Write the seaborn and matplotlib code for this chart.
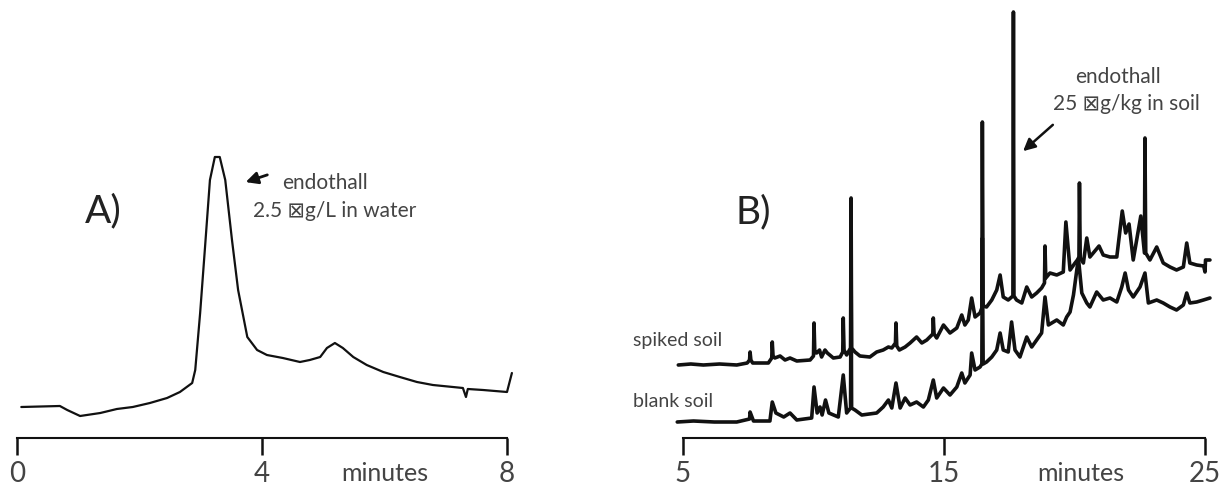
import matplotlib
matplotlib.use("Agg")
import matplotlib.pyplot as plt
import seaborn as sns

# ---- panel A: endothall in water (time in minutes, detector signal)
water_time = [0.07, 0.70, 0.82, 1.03, 1.36, 1.63, 1.89, 2.17, 2.45, 2.66, 2.86, 2.91,
              2.99, 3.07, 3.15, 3.23, 3.31, 3.40, 3.51, 3.61, 3.76, 3.92, 4.08, 4.34,
              4.62, 4.78, 4.95, 5.06, 5.19, 5.32, 5.49, 5.71, 5.98, 6.25, 6.53, 6.79,
              7.28, 7.33, 7.36, 7.61, 8.00, 8.08]
water_signal = [31, 32, 28, 22, 25, 29, 31, 35, 40, 46, 55, 68,
                125, 191, 258, 281, 281, 258, 198, 148, 101, 88, 83, 80,
                76, 78, 81, 90, 95, 90, 81, 73, 66, 61, 56, 53,
                50, 41, 49, 48, 46, 65]

# ---- panel B: spiked soil and blank soil extracts
spiked_time = [4.82, 5.30, 5.78, 6.40, 7.06, 7.46, 7.55, 7.57, 7.60, 7.67, 8.27, 8.40, 8.42,
               8.45, 8.52, 8.72, 8.91, 9.10, 9.36, 9.87, 10.00, 10.02, 10.05, 10.12, 10.23,
               10.31, 10.44, 10.53, 10.76, 11.02, 11.12, 11.14, 11.17, 11.27, 11.42, 11.44,
               11.46, 11.59, 11.78, 12.16, 12.42, 12.67, 12.87, 13.00, 13.14, 13.16, 13.19,
               13.29, 13.51, 13.70, 13.95, 14.15, 14.34, 14.57, 14.59, 14.62, 14.72, 14.98,
               15.23, 15.49, 15.68, 15.80, 15.93, 16.06, 16.19, 16.38, 16.45, 16.47, 16.50,
               16.63, 16.83, 17.02, 17.15, 17.27, 17.46, 17.64, 17.66, 17.68, 17.78, 17.98,
               18.17, 18.36, 18.55, 18.74, 18.85, 18.87, 18.90, 19.06, 19.32, 19.57, 19.67,
               19.83, 20.02, 20.17, 20.19, 20.22, 20.34, 20.47, 20.59, 20.94, 21.10, 21.36,
               21.62, 21.83, 21.96, 22.09, 22.25, 22.54, 22.68, 22.70, 22.73, 22.89, 23.15,
               23.40, 23.66, 23.91, 24.17, 24.30, 24.42, 24.68, 24.95, 25.00, 25.02, 25.19]
spiked_signal = [73, 74, 73, 74, 73, 75, 78, 86, 78, 75, 75, 80, 96,
                 82, 80, 82, 78, 80, 77, 78, 82, 115, 86, 85, 88,
                 81, 88, 85, 80, 81, 86, 120, 88, 83, 90, 240,
                 90, 86, 82, 81, 86, 88, 91, 90, 95, 115, 92,
                 88, 91, 95, 101, 95, 98, 104, 120, 104, 100, 113,
                 105, 110, 123, 113, 118, 140, 121, 125, 130, 316, 132,
                 131, 138, 148, 163, 141, 138, 142, 426, 142, 138, 135,
                 151, 141, 145, 150, 155, 192, 160, 165, 163, 166, 216,
                 168, 175, 180, 255, 180, 175, 200, 181, 192, 183, 181,
                 181, 227, 205, 214, 178, 222, 185, 300, 185, 178, 191,
                 175, 171, 168, 171, 195, 175, 173, 172, 166, 178, 178]

blank_time = [4.78, 5.40, 6.20, 7.06, 7.55, 7.57, 7.70, 8.33, 8.42, 8.56, 8.86, 9.10, 9.36,
              9.93, 10.02, 10.14, 10.25, 10.33, 10.46, 10.59, 10.95, 11.14, 11.27, 11.42,
              11.44, 11.46, 11.59, 11.85, 12.42, 12.67, 12.87, 13.00, 13.16, 13.32, 13.51,
              13.70, 13.95, 14.21, 14.40, 14.59, 14.72, 14.98, 15.23, 15.49, 15.68, 15.80,
              16.00, 16.06, 16.19, 16.38, 16.45, 16.47, 16.50, 16.63, 16.83, 17.02, 17.15,
              17.27, 17.46, 17.59, 17.72, 17.91, 18.17, 18.36, 18.55, 18.74, 18.87, 19.00,
              19.32, 19.57, 19.70, 19.83, 19.96, 20.15, 20.28, 20.47, 20.59, 20.85, 21.10,
              21.36, 21.62, 21.81, 21.94, 22.07, 22.25, 22.51, 22.70, 22.83, 23.15, 23.40,
              23.66, 23.91, 24.17, 24.30, 24.42, 24.68, 24.94, 25.19]
blank_signal = [16, 17, 16, 16, 19, 26, 17, 17, 36, 25, 21, 25, 18,
                20, 51, 25, 31, 23, 38, 25, 21, 63, 25, 30,
                180, 30, 28, 23, 25, 31, 38, 30, 55, 30, 40,
                33, 36, 31, 38, 58, 40, 50, 43, 51, 65, 55,
                63, 85, 68, 71, 74, 200, 74, 76, 81, 88, 105,
                88, 86, 116, 88, 81, 101, 91, 98, 105, 141, 113,
                118, 113, 121, 126, 143, 180, 145, 135, 131, 146, 138,
                140, 136, 151, 165, 148, 141, 151, 165, 135, 138, 135,
                131, 128, 133, 145, 135, 136, 138, 140]

a_ticks = [0, 4, 8]
b_ticks = [5, 15, 25]

sns.set_style("white")
plt.rcParams["font.family"] = ["Lato", "DejaVu Sans"]
ink = "#111111"
grey = "#444444"

W, H = 1231, 491
fig = plt.figure(figsize=(W / 100, H / 100), dpi=100)
ax_a = fig.add_axes([17 / W, 53 / H, 490 / W, 438 / H])
ax_b = fig.add_axes([683 / W, 53 / H, 522 / W, 438 / H])

sns.lineplot(x=water_time, y=water_signal, ax=ax_a, color=ink, linewidth=1.6,
             sort=False, estimator=None)
sns.lineplot(x=blank_time, y=blank_signal, ax=ax_b, color=ink, linewidth=2.6,
             sort=False, estimator=None)
sns.lineplot(x=spiked_time, y=spiked_signal, ax=ax_b, color=ink, linewidth=2.6,
             sort=False, estimator=None)

for ax, ticks, lim, mid in [(ax_a, a_ticks, (0, 8), 6.0), (ax_b, b_ticks, (5, 25), 20.25)]:
    ax.set_xlim(*lim)
    ax.set_ylim(0, 438)
    ax.set_xticks(ticks)
    ax.set_xticklabels([str(t) for t in ticks])
    ax.set_xticks([mid], labels=["minutes"], minor=True)
    ax.set_yticks([])
    ax.set_xlabel("")
    ax.set_ylabel("")
    for side in ["left", "right", "top"]:
        ax.spines[side].set_visible(False)
    ax.spines["bottom"].set_linewidth(1.5)
    ax.spines["bottom"].set_color(ink)
    ax.tick_params(axis="x", which="major", bottom=True, direction="out", length=12.5,
                   width=1.8, color=ink, labelsize=20, labelcolor=grey, pad=4)
    ax.tick_params(axis="x", which="minor", bottom=True, length=0, labelsize=18,
                   labelcolor=grey, pad=17)
    for line in ax.get_lines():
        line.set_clip_on(False)

# panel A labels
ax_a.text(1.11, 216, "A)", fontsize=28, color="#222222")
ax_a.text(4.33, 249, "endothall", fontsize=15, color=grey)
ax_a.text(3.85, 221, "2.5 \u22a0g/L in water", fontsize=15, color=grey)
ax_a.annotate("", xy=(3.69, 255), xytext=(4.13, 264),
              arrowprops=dict(arrowstyle="-|>", color=ink, lw=2, mutation_scale=18))

# panel B labels
ax_b.text(7.0, 215, "B)", fontsize=28, color="#222222")
ax_b.text(20.02, 355, "endothall", fontsize=15, color=grey)
ax_b.text(19.18, 328, "25 \u22a0g/kg in soil", fontsize=15, color=grey)
ax_b.annotate("", xy=(17.95, 285), xytext=(19.25, 315),
              arrowprops=dict(arrowstyle="-|>", color=ink, lw=1.8, mutation_scale=18))
ax_b.text(3.08, 92, "spiked soil", fontsize=14, color=grey, clip_on=False)
ax_b.text(3.08, 31, "blank soil", fontsize=14, color=grey, clip_on=False)

fig.savefig("out.png", dpi=100)
